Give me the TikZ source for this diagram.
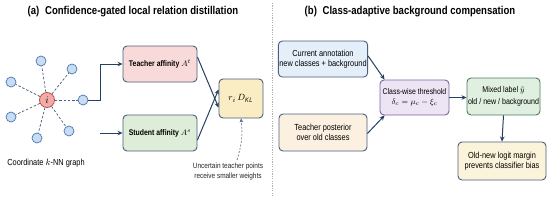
\documentclass[tikz,border=0pt]{standalone}
\usepackage{fontspec}
\setmainfont{Liberation Sans}[FakeStretch=0.84]
\usetikzlibrary{arrows.meta}
\definecolor{navy}{HTML}{263F63}
\definecolor{bordc}{HTML}{4B5E7E}
\definecolor{teachf}{HTML}{F9DADA}
\definecolor{studf}{HTML}{DDEDD8}
\definecolor{dklf}{HTML}{FBEDC3}
\definecolor{curf}{HTML}{E5EFF9}
\definecolor{postf}{HTML}{FCF0E1}
\definecolor{thrf}{HTML}{EDE4F4}
\definecolor{thrb}{HTML}{7D64A0}
\definecolor{mixf}{HTML}{E0F0E0}
\definecolor{mixb}{HTML}{4F7A62}
\definecolor{oldf}{HTML}{FCF4DA}
\definecolor{nodef}{HTML}{C8DDF3}
\definecolor{nodeb}{HTML}{4A76AE}
\definecolor{centf}{HTML}{F4AAA6}
\definecolor{centb}{HTML}{B9514D}
\definecolor{edgec}{HTML}{4A5E80}
\tikzset{
  box/.style={draw=bordc, line width=0.9pt, rounded corners=4pt, align=center, inner sep=1pt, font=\fontsize{8.8}{10.5}\selectfont},
  arr/.style={draw=navy, line width=1pt, -{Stealth[length=5pt,width=4.5pt]}},
  outer/.style={circle, draw=nodeb, fill=nodef, line width=0.7pt, minimum size=10pt, inner sep=0pt},
  kedge/.style={draw=edgec, dashed, dash pattern=on 2.5pt off 1.8pt, line width=0.7pt},
  ttl/.style={font=\fontsize{11.4}{13}\selectfont\bfseries, anchor=center},
  note/.style={align=center, font=\fontsize{7.7}{10}\selectfont, text=black!85}
}
\begin{document}
\begin{tikzpicture}[x=1pt, y=-1pt]
\path[use as bounding box, fill=white] (0,0) rectangle (550,201);
% titles
\node[ttl] (ta) at (133,12) {(a)\enspace Confidence-gated local relation distillation};
\node[ttl] (tb) at (410,12) {(b)\enspace Class-adaptive background compensation};
% divider
\coordinate (dtop) at (272,3);
\coordinate (dbot) at (272,197);
\draw[gray!60, dash pattern=on 1.2pt off 1.2pt, line width=0.7pt] (dtop) -- (dbot);
% graph
\node[outer] (o1) at (41,61) {};
\node[outer] (o2) at (72,69) {};
\node[outer] (o3) at (11,82) {};
\node[outer] (o4) at (83,100) {};
\node[outer] (o5) at (11,117) {};
\node[outer] (o6) at (69,131) {};
\node[outer] (o7) at (37,138) {};
\node[circle, draw=centb, fill=centf, line width=0.8pt, minimum size=15pt, inner sep=0pt] (c) at (47,100) {$i$};
\foreach \n in {o1,o2,o3,o4,o5,o6,o7} \draw[kedge] (c) -- (\n);
\node[font=\fontsize{8.8}{10}\selectfont] (glabel) at (46,163) {Coordinate $k$-NN graph};
% panel a boxes
\node[box, fill=teachf, minimum width=74pt, minimum height=36pt, font=\fontsize{8.2}{10}\selectfont] (teach) at (160,64) {\bfseries Teacher affinity $A^t$};
\node[box, fill=studf, minimum width=74pt, minimum height=36pt, font=\fontsize{8.2}{10}\selectfont] (stud) at (160,133) {\bfseries Student affinity $A^s$};
\node[box, fill=dklf, minimum width=44pt, minimum height=39pt, font=\fontsize{9.5}{10}\selectfont] (dkl) at (241,98.5) {$r_i\,D_{\mathit{KL}}$};
\coordinate (bend) at (100,100);
\draw[arr] (o4.east) -- (bend) |- (teach.west);
\coordinate (sstart) at (100,133);
\draw[arr] (sstart) -- (stud.west);
\draw[arr] ([yshift=7pt]teach.east) -- ([yshift=-9pt]dkl.west);
\draw[arr] ([yshift=-7pt]stud.east) -- ([yshift=9pt]dkl.west);
\node[note] (unc) at (228,172) {Uncertain teacher points\\receive smaller weights};
\draw[draw=navy!80, line width=0.6pt, dash pattern=on 2pt off 1.5pt, -{Stealth[length=4pt,width=3.5pt]}] ([xshift=9pt]unc.north) to[bend right=12] (dkl.south);
% panel b boxes
\node[box, fill=curf, minimum width=88pt, minimum height=36pt] (cur) at (323,59) {Current annotation\\new classes + background};
\node[box, fill=postf, minimum width=88pt, minimum height=37pt] (post) at (323,132.5) {Teacher posterior\\over old classes};
\node[box, draw=thrb, fill=thrf, minimum width=69pt, minimum height=35pt, font=\fontsize{8.2}{10.5}\selectfont] (thr) at (414.5,97.5) {Class-wise threshold\\$\delta_c=\mu_c-\xi_c$};
\node[box, draw=mixb, fill=mixf, minimum width=73pt, minimum height=37pt, font=\fontsize{8.4}{12.5}\selectfont] (mix) at (503.5,96.5) {Mixed label $\tilde{y}$\\old / new / background};
\node[box, fill=oldf, minimum width=88pt, minimum height=38pt] (old) at (502,161) {Old-new logit margin\\prevents classifier bias};
\draw[arr] ([yshift=3pt]cur.east) -- ([xshift=5pt]thr.north west);
\draw[arr] ([yshift=-1pt]post.east) -- ([xshift=5pt]thr.south west);
\draw[arr] (thr.east) -- (thr.east -| mix.west);
\draw[arr] (mix.south) -- (old.north);
\end{tikzpicture}
\end{document}
